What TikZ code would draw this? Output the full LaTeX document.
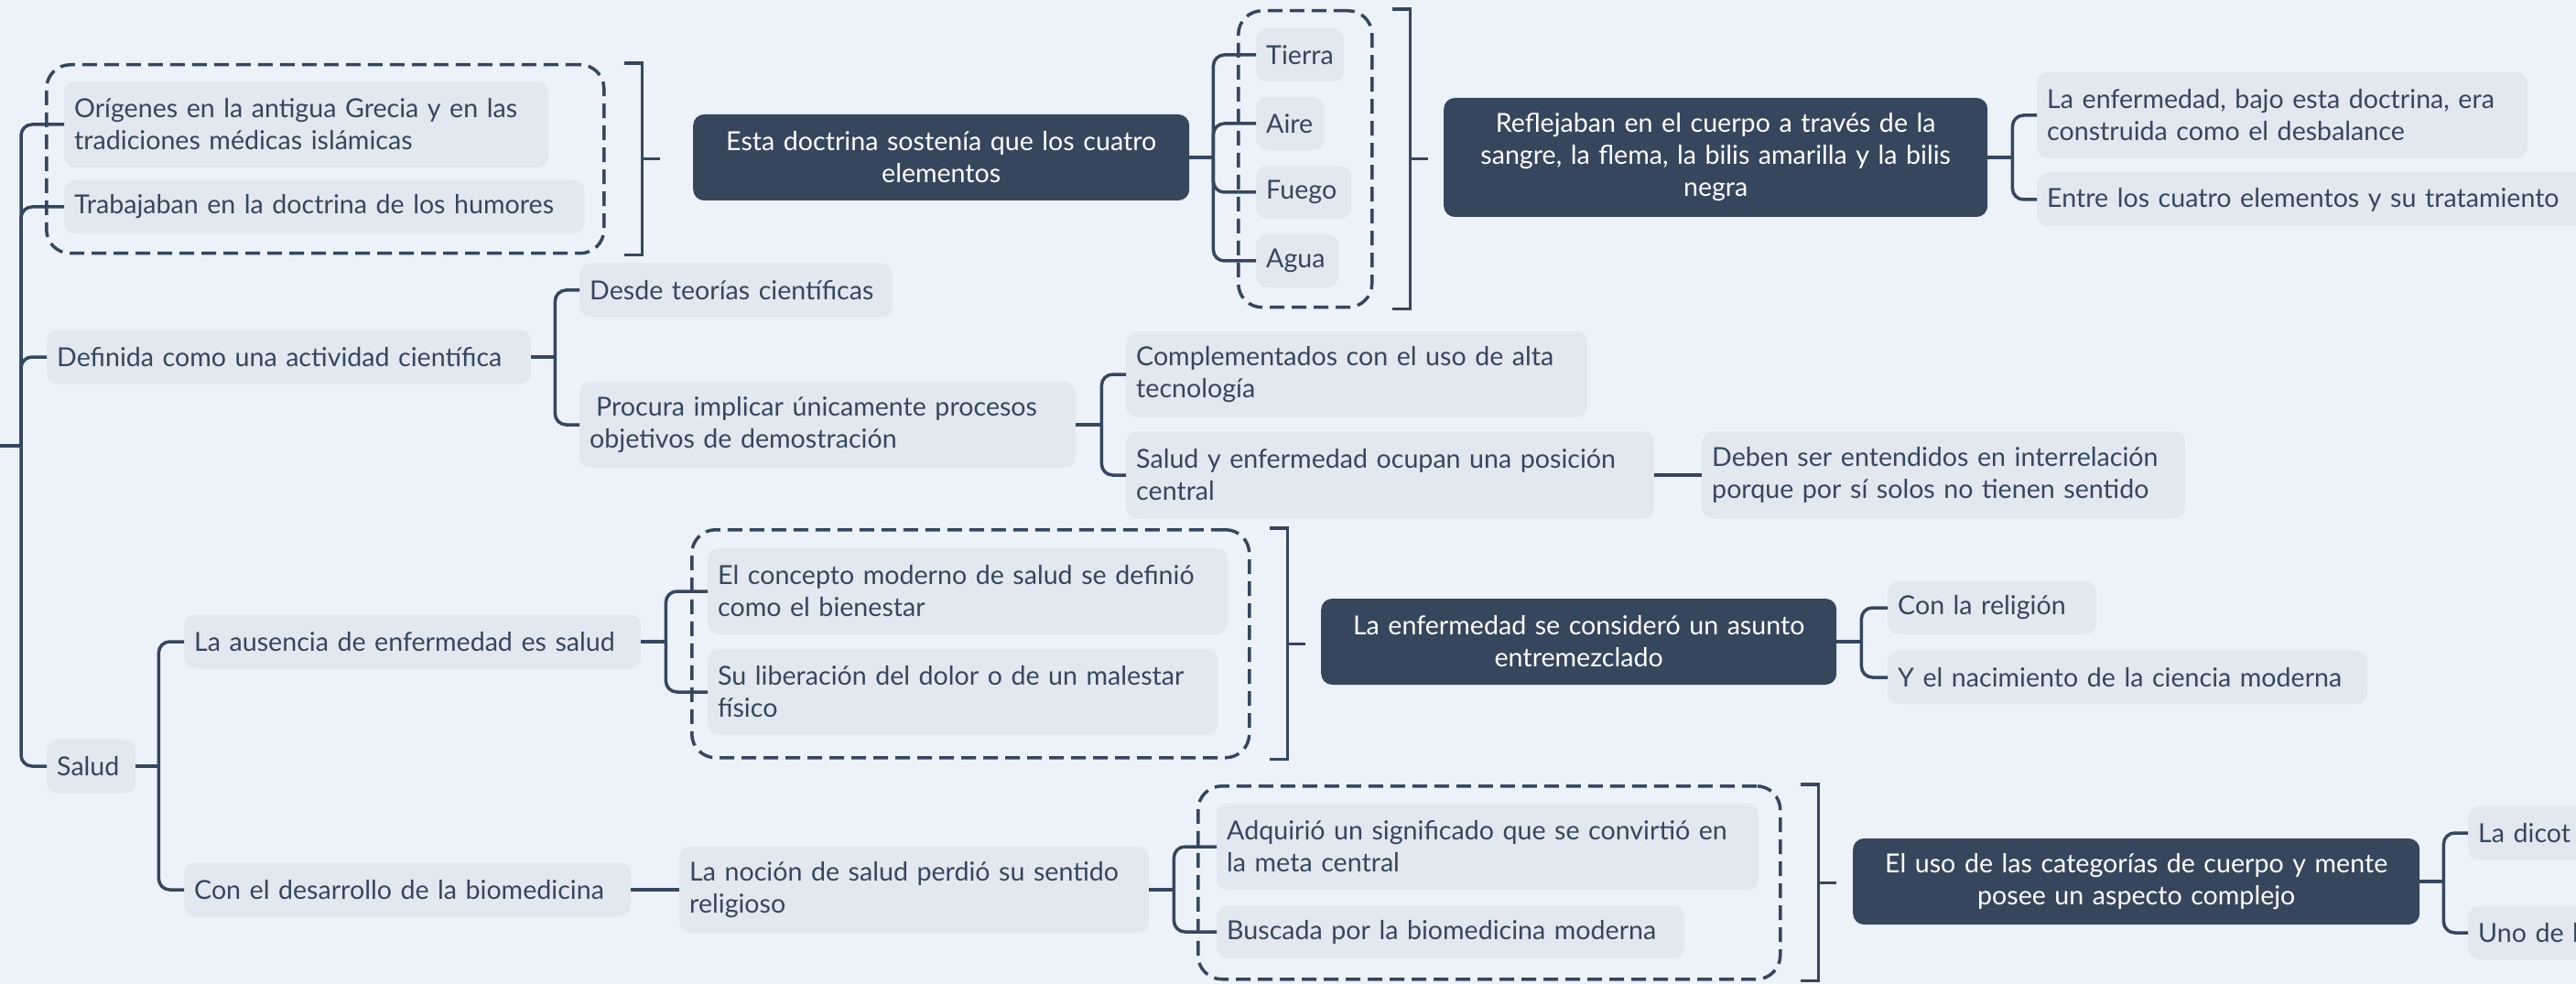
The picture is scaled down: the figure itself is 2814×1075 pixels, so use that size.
\documentclass[tikz,border=0pt]{standalone}
\usepackage{fontspec}
\setmainfont{Lato}
\usetikzlibrary{calc}
\definecolor{bgc}{RGB}{236,242,250}
\definecolor{leafc}{RGB}{226,232,240}
\definecolor{darkc}{RGB}{54,70,92}
\definecolor{inkc}{RGB}{54,70,92}
\newcommand\tfont{\fontsize{28.6pt}{35pt}\selectfont}
\newcommand\nb[1]{\mbox{#1}}
\tikzset{
  leaf/.style={fill=leafc, rounded corners=12pt, text=inkc, anchor=west, inner xsep=11pt, inner ysep=0pt, align=left, font=\tfont},
  dark/.style={fill=darkc, rounded corners=12pt, text=white, anchor=west, inner xsep=11pt, inner ysep=0pt, align=center, font=\tfont},
  conn/.style={draw=inkc, line width=3.5pt, rounded corners=12pt},
  grp/.style={draw=inkc, line width=3.5pt, dash pattern=on 16pt off 8pt, rounded corners=26pt, anchor=north west, inner sep=0pt},
  brk/.style={draw=inkc, line width=3.5pt},
}
\begin{document}
\begin{tikzpicture}[x=1pt,y=-1pt]
\fill[bgc] (0,0) rectangle (2814,1075);
\useasboundingbox (0,0) rectangle (2814,1075);

% group boxes
\node[grp, minimum width=609pt, minimum height=206pt] (g1) at (49,69) {};
\node[grp, minimum width=146pt, minimum height=324pt] (g2) at (1351,10) {};
\node[grp, minimum width=609pt, minimum height=249pt] (g3) at (754,577) {};
\node[grp, minimum width=636pt, minimum height=211pt] (g4) at (1307,857) {};

% nodes
\node[leaf, text width=507pt, minimum height=94pt] (orig) at (70,136) {\nb{Orígenes en la antigua Grecia y en las}\\tradiciones médicas islámicas};
\node[leaf, text width=546pt, minimum height=59pt] (trab) at (70,226) {\nb{Trabajaban en la doctrina de los humores}};
\node[leaf, text width=507pt, minimum height=59pt] (def) at (51,390) {\nb{Definida como una actividad científica}};
\node[leaf, text width=75pt, minimum height=59pt] (salud) at (51,837) {Salud};
\node[dark, text width=520pt, minimum height=94pt] (esta) at (757,172) {\nb{Esta doctrina sostenía que los cuatro}\\elementos};
\node[leaf, text width=74pt, minimum height=58pt] (tierra) at (1372,60) {Tierra};
\node[leaf, text width=52pt, minimum height=58pt] (aire) at (1372,135) {Aire};
\node[leaf, text width=82pt, minimum height=58pt] (fuego) at (1372,210) {Fuego};
\node[leaf, text width=68pt, minimum height=58pt] (agua) at (1372,285) {Agua};
\node[dark, text width=572pt, minimum height=130pt] (refl) at (1577,172) {\nb{Reflejaban en el cuerpo a través de la}\\\nb{sangre, la flema, la bilis amarilla y la bilis}\\negra};
\node[leaf, text width=514pt, minimum height=94pt] (laenf) at (2225,126) {\nb{La enfermedad, bajo esta doctrina, era}\\construida como el desbalance};
\node[leaf, text width=598pt, minimum height=59pt] (entre) at (2225,218) {\nb{Entre los cuatro elementos y su tratamiento}};
\node[leaf, text width=320pt, minimum height=59pt] (desde) at (633,317) {\nb{Desde teorías científicas}};
\node[leaf, text width=520pt, minimum height=94pt] (procura) at (633,464) {\nb{\hspace*{7pt}Procura implicar únicamente procesos}\\objetivos de demostración};
\node[leaf, text width=482pt, minimum height=94pt] (compl) at (1230,409) {\nb{Complementados con el uso de alta}\\tecnología};
\node[leaf, text width=555pt, minimum height=95pt] (saludy) at (1230,519) {\nb{Salud y enfermedad ocupan una posición}\\central};
\node[leaf, text width=506pt, minimum height=95pt] (deben) at (1859,519) {\nb{Deben ser entendidos en interrelación}\\\nb{porque por sí solos no tienen sentido}};
\node[leaf, text width=477pt, minimum height=59pt] (ausencia) at (201,701) {\nb{La ausencia de enfermedad es salud}};
\node[leaf, text width=466pt, minimum height=59pt] (condes) at (201,972) {\nb{Con el desarrollo de la biomedicina}};
\node[leaf, text width=546pt, minimum height=94pt] (concepto) at (773,646) {\nb{El concepto moderno de salud se definió}\\como el bienestar};
\node[leaf, text width=535pt, minimum height=94pt] (liber) at (773,756) {\nb{Su liberación del dolor o de un malestar}\\físico};
\node[dark, text width=541pt, minimum height=94pt] (laenf2) at (1443,701) {\nb{La enfermedad se consideró un asunto}\\entremezclado};
\node[leaf, text width=206pt, minimum height=58pt] (religion) at (2062,664) {\nb{Con la religión}};
\node[leaf, text width=502pt, minimum height=58pt] (nacim) at (2062,740) {\nb{Y el nacimiento de la ciencia moderna}};
\node[leaf, text width=491pt, minimum height=94pt] (nocion) at (742,972) {\nb{La noción de salud perdió su sentido}\\religioso};
\node[leaf, text width=570pt, minimum height=95pt] (adq) at (1329,925) {\nb{Adquirió un significado que se convirtió en}\\la meta central};
\node[leaf, text width=489pt, minimum height=58pt] (busc) at (1329,1018) {\nb{Buscada por la biomedicina moderna}};
\node[dark, text width=597pt, minimum height=94pt] (eluso) at (2024,963) {\nb{El uso de las categorías de cuerpo y mente}\\posee un aspecto complejo};
\node[leaf, text width=178pt, minimum height=59pt] (dicot) at (2696,910) {La dicot};
\node[leaf, text width=178pt, minimum height=58pt] (unode) at (2696,1019) {Uno de l};

% brackets
\foreach \g in {g1,g2,g3,g4}{
  \draw[brk] ($(\g.north east)+(20,0)$) -- ($(\g.north east)+(40,0)$) -- ($(\g.south east)+(40,0)$) -- ($(\g.south east)+(20,0)$);
  \coordinate (\g m) at ($(\g.east)+(40,0)$);
  \coordinate (\g s) at ($(\g.east)+(59,0)$);
  \draw[brk] (\g m) -- (\g s);
}

% connectors
\coordinate (root) at (-5,487);
\coordinate (f0) at (23,487);
\draw[conn] (root) -- (f0);
\foreach \c in {orig,trab,def,salud} \draw[conn] (f0) |- (\c.west);

\coordinate (f1) at ($(esta.east)+(26,0)$);
\draw[conn] (esta.east) -- (f1);
\foreach \c in {tierra,aire,fuego,agua} \draw[conn] (f1) |- (\c.west);

\coordinate (f2) at ($(refl.east)+(27,0)$);
\draw[conn] (refl.east) -- (f2);
\foreach \c in {laenf,entre} \draw[conn] (f2) |- (\c.west);

\coordinate (f3) at ($(def.east)+(26,0)$);
\draw[conn] (def.east) -- (f3);
\foreach \c in {desde,procura} \draw[conn] (f3) |- (\c.west);

\coordinate (f4) at ($(procura.east)+(28,0)$);
\draw[conn] (procura.east) -- (f4);
\foreach \c in {compl,saludy} \draw[conn] (f4) |- (\c.west);

\draw[conn] (saludy.east) -- (deben.west);

\coordinate (f5) at ($(salud.east)+(25,0)$);
\draw[conn] (salud.east) -- (f5);
\foreach \c in {ausencia,condes} \draw[conn] (f5) |- (\c.west);

\coordinate (f6) at ($(ausencia.east)+(27,0)$);
\draw[conn] (ausencia.east) -- (f6);
\foreach \c in {concepto,liber} \draw[conn] (f6) |- (\c.west);

\coordinate (f7) at ($(laenf2.east)+(27,0)$);
\draw[conn] (laenf2.east) -- (f7);
\foreach \c in {religion,nacim} \draw[conn] (f7) |- (\c.west);

\draw[conn] (condes.east) -- (nocion.west);

\coordinate (f8) at ($(nocion.east)+(27,0)$);
\draw[conn] (nocion.east) -- (f8);
\foreach \c in {adq,busc} \draw[conn] (f8) |- (\c.west);

\coordinate (f9) at ($(eluso.east)+(26,0)$);
\draw[conn] (eluso.east) -- (f9);
\foreach \c in {dicot,unode} \draw[conn] (f9) |- (\c.west);
\end{tikzpicture}
\end{document}
